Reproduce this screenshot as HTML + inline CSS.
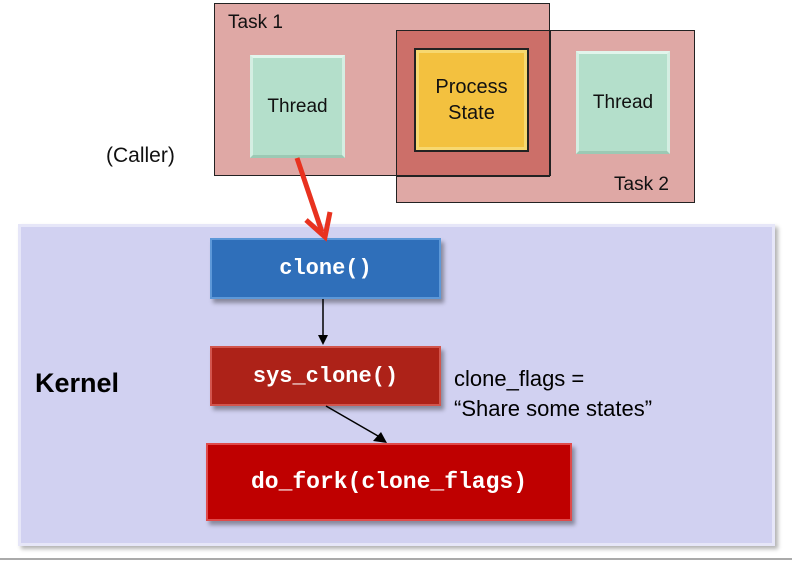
<!DOCTYPE html>
<html><head><style>
body{margin:0;width:792px;height:562px;background:#fff;position:relative;overflow:hidden;font-family:"Liberation Sans",sans-serif;}
.a{position:absolute;box-sizing:border-box;}
.t{display:flex;align-items:center;justify-content:center;text-align:center;}
.th{background:#b4dfcb;border:3px solid #d4eee2;border-top-color:#e2f5ec;border-bottom-color:#9cc9b4;font-size:19px;color:#111;}
.mono{font-family:"Liberation Mono",monospace;font-weight:bold;color:#fff;font-size:22px;box-shadow:3px 4px 4px rgba(0,0,0,0.35);}
</style></head><body>
<div class="a" style="left:214px;top:3px;width:336px;height:173px;background:#dfa8a5;border:1.5px solid #222;"></div>
<div class="a" style="left:396px;top:30px;width:299px;height:173px;background:#dfa8a5;border:1.5px solid #222;"></div>
<div class="a" style="left:396px;top:30px;width:154px;height:146px;background:#cc6f69;border-left:1.5px solid #222;border-top:1.5px solid #222;"></div>
<div class="a" style="left:549px;top:30px;width:1.5px;height:146px;background:#222;"></div>
<div class="a" style="left:396px;top:175px;width:154px;height:1.5px;background:#222;"></div>
<div class="a" style="left:228px;top:12px;font-size:19px;color:#111;">Task 1</div>
<div class="a" style="left:614px;top:174px;font-size:19px;color:#111;">Task 2</div>
<div class="a t th" style="left:250px;top:55px;width:95px;height:103px;">Thread</div>
<div class="a t th" style="left:576px;top:51px;width:94px;height:103px;">Thread</div>
<div class="a t" style="left:414px;top:48px;width:115px;height:104px;background:#f3c13f;border:2px solid #222;box-shadow:inset 0 0 0 3px #f7d870;font-size:20px;line-height:26px;color:#111;">Process<br>State</div>
<div class="a" style="left:106px;top:144px;font-size:21px;color:#111;">(Caller)</div>
<div class="a" style="left:18px;top:224px;width:757px;height:322px;background:#d1d1f1;border:3px solid #e6e6f8;box-shadow:3px 3px 4px rgba(0,0,0,0.3);"></div>
<div class="a" style="left:35px;top:368px;font-size:27px;font-weight:bold;color:#000;">Kernel</div>
<div class="a t mono" style="left:210px;top:238px;width:231px;height:61px;background:#2f6fba;border:2px solid #5d98d8;">clone()</div>
<div class="a t mono" style="left:210px;top:346px;width:231px;height:60px;background:#ad2218;border:2px solid #d2554d;">sys_clone()</div>
<div class="a t mono" style="left:206px;top:443px;width:366px;height:78px;background:#bf0000;border:2px solid #e04a4a;font-size:23px;">do_fork(clone_flags)</div>
<div class="a" style="left:454px;top:364px;font-size:22px;line-height:30px;color:#000;">clone_flags =<br>“Share some states”</div>
<svg class="a" style="left:0;top:0" width="792" height="562">
<line x1="297" y1="158" x2="322" y2="232" stroke="#e8321f" stroke-width="5"/>
<polyline points="306,220 325,237 330,212" fill="none" stroke="#e8321f" stroke-width="5"/>
<line x1="323" y1="299" x2="323" y2="336" stroke="#000" stroke-width="1.5"/>
<polygon points="318,335 328,335 323,345" fill="#000"/>
<line x1="326" y1="406" x2="378" y2="436" stroke="#000" stroke-width="1.5"/>
<polygon points="373,441 381,432 387,443" fill="#000"/>
<line x1="0" y1="559" x2="792" y2="559" stroke="#aaa" stroke-width="2"/>
</svg>
</body></html>
